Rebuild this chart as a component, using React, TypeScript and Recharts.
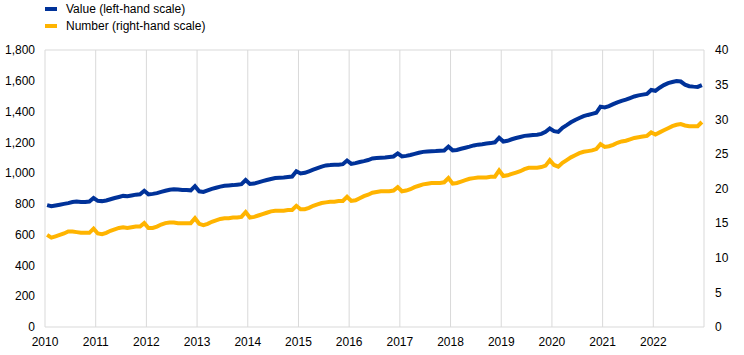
import React from 'react';
import { LineChart, Line, XAxis, YAxis, CartesianGrid } from 'recharts';

// 연도 (월별 데이터)
const years = [2010, 2011, 2012, 2013, 2014, 2015, 2016, 2017, 2018, 2019, 2020, 2021, 2022];

// Value (left-hand scale), 월별
const valueSeries = [
  792, 785, 790, 795, 800, 805, 812, 815, 812, 813, 815, 838,
  820, 818, 822, 830, 838, 845, 852, 850, 855, 860, 862, 885,
  862, 865, 870, 878, 885, 892, 895, 893, 890, 890, 888, 915,
  882, 878, 888, 898, 905, 912, 918, 920, 922, 925, 928, 955,
  930, 932, 940, 948, 955, 962, 968, 970, 972, 975, 978, 1012,
  998, 1002, 1012, 1022, 1032, 1042, 1050, 1052, 1055, 1055, 1058, 1082,
  1060, 1065, 1072, 1078, 1085, 1095, 1098, 1100, 1102, 1105, 1108, 1128,
  1108, 1112, 1118, 1125, 1132, 1138, 1140, 1142, 1143, 1145, 1147, 1172,
  1148, 1150, 1158, 1165, 1172, 1180, 1185, 1188, 1192, 1195, 1200, 1230,
  1205, 1210, 1220, 1228, 1235, 1242, 1245, 1248, 1250, 1255, 1268, 1290,
  1273, 1268, 1295, 1312, 1330, 1345, 1358, 1370, 1378, 1385, 1392, 1432,
  1427, 1435, 1448, 1460, 1470, 1478, 1488, 1498, 1505, 1510, 1515, 1540,
  1535, 1555, 1572, 1585, 1592, 1598, 1595, 1575, 1565, 1562, 1560, 1572,
];

// Number (right-hand scale), 월별
const numberSeries = [
  13.3, 12.9, 13.1, 13.3, 13.5, 13.8, 13.8, 13.7, 13.6, 13.6, 13.6, 14.2,
  13.5, 13.4, 13.6, 13.9, 14.1, 14.3, 14.4, 14.3, 14.4, 14.5, 14.5, 15.0,
  14.3, 14.3, 14.5, 14.8, 15.0, 15.1, 15.1, 15.0, 15.0, 15.0, 15.0, 15.7,
  14.9, 14.7, 14.9, 15.2, 15.4, 15.6, 15.7, 15.7, 15.8, 15.8, 15.9, 16.6,
  15.8, 15.9, 16.1, 16.3, 16.5, 16.7, 16.8, 16.8, 16.8, 16.9, 16.9, 17.5,
  17.0, 17.0, 17.2, 17.5, 17.7, 17.9, 18.0, 18.1, 18.1, 18.2, 18.2, 18.8,
  18.2, 18.3, 18.6, 18.9, 19.1, 19.4, 19.5, 19.6, 19.6, 19.6, 19.7, 20.2,
  19.6, 19.7, 19.9, 20.2, 20.4, 20.6, 20.7, 20.8, 20.8, 20.8, 20.9, 21.5,
  20.7, 20.8, 21.0, 21.2, 21.4, 21.5, 21.6, 21.6, 21.6, 21.7, 21.7, 22.6,
  21.8, 21.9, 22.1, 22.3, 22.5, 22.8, 23.0, 23.0, 23.0, 23.1, 23.3, 24.1,
  23.4, 23.15, 23.7, 24.1, 24.5, 24.8, 25.1, 25.3, 25.4, 25.5, 25.7, 26.4,
  26.0, 26.1, 26.3, 26.6, 26.8, 26.9, 27.1, 27.3, 27.4, 27.5, 27.6, 28.1,
  27.8, 28.1, 28.4, 28.7, 29.0, 29.2, 29.3, 29.1, 29.0, 29.0, 29.0, 29.6,
];

const xTicks = [...years, 2023];
const leftTicks = [0, 200, 400, 600, 800, 1000, 1200, 1400, 1600, 1800];
const rightTicks = [0, 5, 10, 15, 20, 25, 30, 35, 40];

const BLUE = '#003299';
const YELLOW = '#ffb400';
const FONT = '"Liberation Sans", Arial, sans-serif';

// 월 중간 시점을 소수 연도로
const data = valueSeries.map((v, i) => ({
  t: years[Math.floor(i / 12)] + ((i % 12) + 0.5) / 12,
  value: v,
  number: numberSeries[i],
}));

const legendItems = [
  { label: 'Value (left-hand scale)', color: BLUE },
  { label: 'Number (right-hand scale)', color: YELLOW },
];

export default function App() {
  const tick = { fontSize: 12, fill: '#000', fontFamily: FONT };
  return (
    <div style={{ position: 'absolute', left: 0, top: 0, width: 744, height: 355 }}>
      {/* 범례 */}
      <div style={{ position: 'absolute', left: 45, top: 0, fontFamily: FONT, fontSize: 12, color: '#000', zIndex: 1 }}>
        {legendItems.map((item) => (
          <div key={item.label} style={{ display: 'flex', alignItems: 'center', height: 17 }}>
            <span style={{ display: 'inline-block', width: 12, height: 4, background: item.color, marginRight: 9 }} />
            <span>{item.label}</span>
          </div>
        ))}
      </div>
      <LineChart width={744} height={355} data={data} margin={{ top: 50, right: 0, bottom: 0, left: 0 }}>
        <CartesianGrid stroke="#d9d9d9" vertical horizontal />
        <XAxis
          dataKey="t"
          type="number"
          domain={[2010, 2023]}
          ticks={xTicks}
          tickFormatter={(v) => (v === 2023 ? '' : String(v))}
          axisLine={false}
          tickLine={false}
          tickMargin={4}
          height={28}
          tick={tick}
          interval={0}
        />
        <YAxis
          yAxisId="left"
          domain={[0, 1800]}
          ticks={leftTicks}
          tickFormatter={(v) => v.toLocaleString('en-US')}
          axisLine={false}
          tickLine={false}
          tickMargin={4}
          width={45}
          tick={tick}
          interval={0}
        />
        <YAxis
          yAxisId="right"
          orientation="right"
          domain={[0, 40]}
          ticks={rightTicks}
          axisLine={false}
          tickLine={false}
          tickMargin={5}
          width={40}
          tick={{ ...tick, textAnchor: 'start' }}
          interval={0}
        />
        <Line
          yAxisId="right"
          dataKey="number"
          stroke={YELLOW}
          strokeWidth={4}
          dot={false}
          type="linear"
          isAnimationActive={false}
        />
        <Line
          yAxisId="left"
          dataKey="value"
          stroke={BLUE}
          strokeWidth={4}
          dot={false}
          type="linear"
          isAnimationActive={false}
        />
      </LineChart>
    </div>
  );
}
